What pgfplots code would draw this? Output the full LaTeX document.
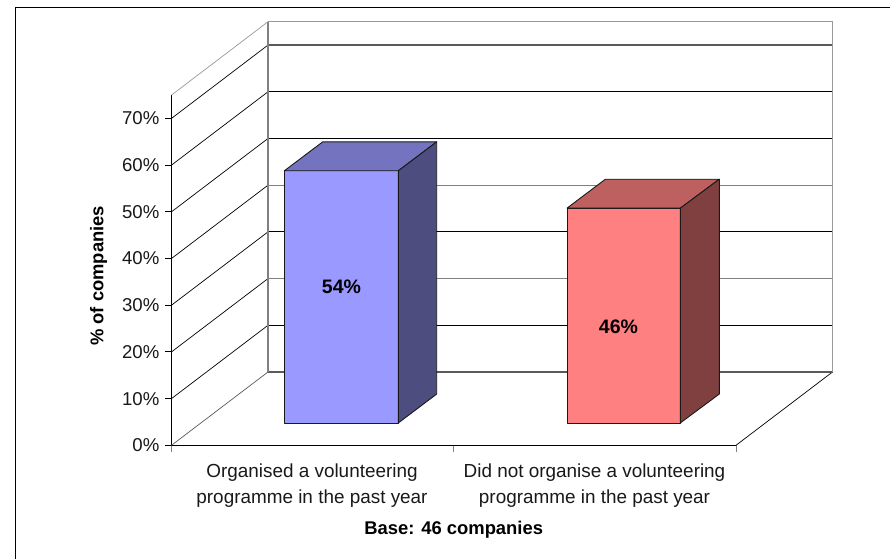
\documentclass[border=0pt]{standalone}
\usepackage{pgfplots}
\pgfplotsset{compat=1.18}
\usepackage{fontspec}
\setmainfont{Liberation Sans}
\definecolor{bluefront}{HTML}{9999FF}
\definecolor{bluetop}{HTML}{7373BF}
\definecolor{blueside}{HTML}{4D4D80}
\definecolor{redfront}{HTML}{FF8080}
\definecolor{redtop}{HTML}{BF6060}
\definecolor{redside}{HTML}{804040}
\definecolor{wall}{HTML}{808080}
\begin{document}
\begin{tikzpicture}[x=1pt,y=1pt]
\path[use as bounding box,fill=white] (0,0) rectangle (890,559);
\draw[black,line width=1pt] (15.3,0) -- (15.3,551.5) -- (890,551.5);
\begin{axis}[
  at={(171.5pt,113.7pt)},anchor=south west,
  scale only axis,width=564.5pt,height=350.25pt,
  xmin=171.5,xmax=736,ymin=0,ymax=75,
  clip=false,
  axis x line=bottom,axis y line=left,
  axis line style={-,black,line width=0.9pt},
  ytick={0,10,20,30,40,50,60,70},
  yticklabel={\pgfmathprintnumber{\tick}\%},
  /pgf/number format/assume math mode=true,
  xtick={312,594.5},
  xticklabels={Organised a volunteering\\programme in the past year,Did not organise a volunteering\\programme in the past year},
  minor xtick={171.5,453,736},
  tick align=outside,
  major tick length=6.5pt,
  minor tick length=6.5pt,
  x tick style={draw=none},
  minor x tick style={draw=wall,line width=0.9pt},
  y tick style={black,line width=0.9pt},
  yticklabel style={font=\fontsize{18.6}{20}\selectfont,inner sep=1pt,xshift=-4.5pt,text=black!90},
  xticklabel style={font=\fontsize{18.9}{26}\selectfont,align=center,inner sep=0pt,yshift=-11.5pt,text=black!90},
  xlabel={\textbf{Base: 46 companies}},
  ylabel={\textbf{\% of companies}},
  label style={font=\fontsize{18.4}{20}\selectfont},
  xlabel style={at={(axis description cs:0.5,0)},anchor=center,yshift=-84pt},
  ylabel style={at={(axis description cs:0,0.4838)},anchor=center,xshift=0pt,yshift=73pt},
  wline/.style={line width=0.8pt,draw=black},
  gline/.style={line width=1.2pt,draw=wall},
]
% side wall and floor
\addplot[line width=0.7pt,draw=wall!70!black] coordinates {(171.5,0)(268,15.7)};
\addplot[line width=0.7pt,draw=black] coordinates {(736,0)(832.5,15.7)};
\addplot[line width=0.7pt,draw=black] coordinates {(171.5,10)(268,25.7)};
\addplot[line width=0.7pt,draw=black] coordinates {(171.5,20)(268,35.7)};
\addplot[line width=0.7pt,draw=black] coordinates {(171.5,30)(268,45.7)};
\addplot[line width=0.7pt,draw=black] coordinates {(171.5,40)(268,55.7)};
\addplot[line width=0.7pt,draw=black] coordinates {(171.5,50)(268,65.7)};
\addplot[line width=0.7pt,draw=black] coordinates {(171.5,60)(268,75.7)};
\addplot[line width=0.7pt,draw=black] coordinates {(171.5,70)(268,85.7)};
\addplot[line width=0.7pt,draw=wall!80] coordinates {(171.5,75)(268,90.7)};
% back wall
\addplot[gline,draw=black!65] coordinates {(268,15.7)(832.5,15.7)};
\addplot[wline] coordinates {(268,25.7)(832.5,25.7)};
\addplot[gline,draw=wall] coordinates {(268,35.7)(832.5,35.7)};
\addplot[wline] coordinates {(268,45.7)(832.5,45.7)};
\addplot[gline] coordinates {(268,55.7)(832.5,55.7)};
\addplot[wline] coordinates {(268,65.7)(832.5,65.7)};
\addplot[wline] coordinates {(268,75.7)(832.5,75.7)};
\addplot[gline,draw=black!65] coordinates {(268,85.7)(832.5,85.7)};
\addplot[gline,draw=wall!80] coordinates {(268,90.7)(832.5,90.7)};
\addplot[gline] coordinates {(268,15.7)(268,90.7)};
\addplot[gline,draw=wall!80] coordinates {(832.5,15.7)(832.5,90.7)};
% bars: value on y, lifted off the floor by 4.78
\pgfplotsset{barlift/.style={y filter/.expression={y+4.78},line width=0.9pt,draw=black!90,line join=round}}
\addplot[barlift,fill=bluefront] coordinates {(284.3,0)(398.3,0)(398.3,54)(284.3,54)} --cycle;
\addplot[barlift,fill=bluetop] coordinates {(284.3,54)(398.3,54)(436.7,60.2)(322.7,60.2)} --cycle;
\addplot[barlift,fill=blueside] coordinates {(398.3,0)(436.7,6.2)(436.7,60.2)(398.3,54)} --cycle;
\addplot[barlift,fill=redfront] coordinates {(567,0)(680.3,0)(680.3,46)(567,46)} --cycle;
\addplot[barlift,fill=redtop] coordinates {(567,46)(680.3,46)(719.3,52.2)(605.4,52.2)} --cycle;
\addplot[barlift,fill=redside] coordinates {(680.3,0)(719.3,6.2)(719.3,52.2)(680.3,46)} --cycle;
\node[font=\fontsize{19.5}{20}\bfseries\selectfont] at (axis cs:341.5,33.9) {54\%};
\node[font=\fontsize{19.5}{20}\bfseries\selectfont] at (axis cs:618.5,25.3) {46\%};
\end{axis}
\end{tikzpicture}
\end{document}
